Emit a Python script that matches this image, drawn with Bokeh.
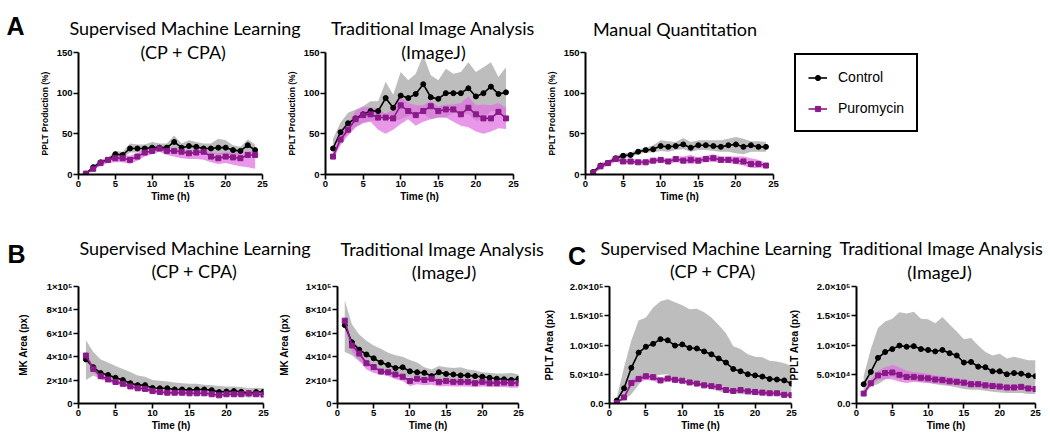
from bokeh.plotting import figure
from bokeh.layouts import column, row
from bokeh.models import Label, Legend, LegendItem, FixedTicker, Range1d
from bokeh.embed import file_html
from bokeh.resources import INLINE

# ---------------- data ----------------
hours_a = [1, 2, 3, 4, 5, 6, 7, 8, 9, 10, 11, 12, 13, 14, 15, 16, 17, 18, 19, 20, 21, 22, 23, 24]
hours_bc = [1, 2, 3, 4, 5, 6, 7, 8, 9, 10, 11, 12, 13, 14, 15, 16, 17, 18, 19, 20, 21, 22, 23, 24, 25]

# A - PPLT Production (%)
a1_ctrl = [1, 9, 15, 18, 25, 24, 32, 32, 32, 33, 33, 33, 40, 33, 35, 34, 32, 32, 33, 33, 30, 29, 36, 30]
a1_ctrl_lo = [0, 7, 12, 15, 21, 20, 27, 27, 27, 27, 28, 28, 32, 28, 29, 28, 26, 26, 24, 25, 24, 24, 29, 24]
a1_ctrl_hi = [2, 11, 18, 21, 29, 28, 38, 37, 37, 40, 38, 38, 48, 38, 42, 40, 38, 38, 44, 42, 36, 34, 43, 37]
a1_puro = [1, 7, 14, 18, 20, 20, 18, 22, 27, 29, 32, 29, 29, 28, 26, 27, 28, 22, 20, 22, 21, 20, 24, 24]
a1_puro_lo = [0, 5, 11, 14, 15, 15, 13, 17, 22, 25, 28, 24, 22, 20, 19, 19, 18, 15, 13, 14, 12, 10, 9, 7]
a1_puro_hi = [2, 9, 17, 21, 24, 24, 23, 26, 30, 32, 34, 32, 31, 30, 29, 30, 31, 27, 26, 27, 27, 26, 29, 28]

a2_ctrl = [32, 52, 63, 69, 74, 78, 78, 94, 82, 97, 94, 99, 111, 95, 93, 100, 100, 100, 106, 96, 100, 108, 99, 101]
a2_ctrl_lo = [20, 40, 50, 58, 64, 66, 66, 74, 66, 68, 72, 74, 75, 68, 70, 70, 76, 74, 74, 66, 68, 78, 78, 70]
a2_ctrl_hi = [44, 64, 76, 80, 84, 90, 90, 114, 98, 126, 116, 124, 147, 122, 116, 130, 124, 126, 138, 126, 132, 138, 120, 132]
a2_puro = [22, 43, 55, 68, 73, 74, 70, 70, 69, 85, 78, 73, 78, 84, 78, 80, 80, 74, 82, 74, 69, 69, 77, 69]
a2_puro_lo = [18, 36, 48, 58, 63, 65, 55, 50, 55, 62, 68, 60, 65, 68, 70, 70, 65, 60, 58, 53, 50, 53, 57, 56]
a2_puro_hi = [26, 50, 62, 78, 83, 83, 80, 75, 80, 95, 88, 85, 85, 90, 84, 86, 86, 88, 96, 85, 86, 85, 88, 82]

a3_ctrl = [3, 11, 14, 20, 23, 24, 28, 30, 31, 35, 34, 35, 37, 33, 36, 36, 35, 34, 36, 37, 34, 36, 34, 34]
a3_ctrl_lo = [1, 8, 11, 17, 20, 21, 25, 27, 27, 29, 28, 30, 31, 28, 30, 30, 29, 28, 28, 26, 25, 28, 28, 28]
a3_ctrl_hi = [5, 14, 17, 23, 26, 27, 31, 33, 36, 42, 41, 40, 45, 40, 42, 42, 42, 42, 44, 46, 44, 41, 41, 40]
a3_puro = [2, 10, 14, 19, 16, 16, 15, 15, 17, 18, 16, 19, 17, 18, 17, 19, 20, 18, 18, 17, 16, 13, 13, 11]
a3_puro_lo = [0, 7, 11, 16, 13, 13, 12, 12, 14, 15, 13, 15, 14, 13, 14, 15, 16, 14, 14, 13, 11, 8, 8, 9]
a3_puro_hi = [4, 13, 17, 21, 19, 19, 18, 18, 20, 21, 19, 22, 22, 24, 21, 23, 25, 22, 22, 22, 22, 20, 18, 13]

# B - MK Area (px), in thousands
b1_ctrl_k = [37.7, 31, 26, 24.4, 22, 20, 17.3, 15.7, 15.7, 13.3, 13, 13, 12, 12, 11.4, 12, 12, 11.4, 9.8, 10.3, 10.6, 10, 8.7, 9.8, 10]
b1_ctrl_lo_k = [20, 24, 21, 20, 18, 16.8, 14.6, 13.3, 12.7, 11.4, 10.6, 10.6, 9.8, 9.8, 9.2, 9, 9, 8.6, 8, 7.9, 7.5, 6.5, 5, 6.5, 7.3]
b1_ctrl_hi_k = [54, 44, 37.7, 35, 32, 29.5, 27, 24, 22.8, 20, 19.5, 18.7, 18, 17.3, 16.8, 16.8, 16, 15.5, 15, 14.6, 14.5, 14, 13, 13.5, 13.3]
b1_puro_k = [41, 29.5, 23.3, 20.6, 18.4, 16.8, 14.6, 13, 12.5, 10.6, 9.8, 9.2, 9.2, 9.2, 8.7, 8.7, 8.7, 7.9, 7, 7.9, 7.9, 7.9, 8.7, 7.9, 7.6]
b1_puro_lo_k = [38, 27, 20.8, 18.6, 16.4, 14.8, 12.6, 11, 10.5, 8.6, 7.8, 7.2, 7.2, 7.2, 6.7, 6.7, 6.7, 5.9, 5.2, 5.9, 5.9, 5.9, 6.7, 5.9, 5.6]
b1_puro_hi_k = [44, 32, 25.8, 22.6, 20.4, 18.8, 16.6, 15, 14.5, 12.4, 11.6, 11, 11, 11, 10.5, 10.5, 10.5, 9.7, 8.8, 9.7, 9.7, 9.7, 10.3, 9.5, 9.2]

b2_ctrl_k = [67, 52.3, 46, 41.9, 38.6, 35, 33, 30.3, 30.9, 27.5, 26.7, 26.2, 23.4, 26.7, 25.3, 24.8, 24, 24, 23.4, 22.9, 22, 21.2, 20.7, 20.1, 21.2]
b2_ctrl_lo_k = [44, 41.3, 35.8, 33, 31, 28.4, 26.2, 24.8, 23.4, 22, 21, 20.7, 19.8, 20, 19.3, 19, 19, 18.5, 18.2, 17.9, 17.5, 17, 17, 16.5, 16.5]
b2_ctrl_hi_k = [88, 67.5, 59, 53.7, 49.6, 46.8, 43.3, 41.3, 40, 37.2, 35, 31, 29, 32, 31, 30.3, 31, 29, 28.4, 26.7, 26.2, 25.6, 25.6, 26.2, 24.8]
b2_puro_k = [70.8, 49.6, 42.7, 34.4, 31.1, 27.3, 26.7, 24.8, 22.9, 19.3, 21.2, 20.1, 21.2, 18.5, 19.3, 18.5, 18.5, 18.5, 17.4, 18.5, 17.4, 17.4, 17.9, 17.4, 17.4]
b2_puro_lo_k = [64, 44, 37, 29, 26, 24.8, 23.4, 20.7, 19.3, 15, 16.5, 15.5, 16, 14.5, 15, 14.5, 14.5, 14.5, 14, 14.5, 14, 14, 14, 13.5, 13.5]
b2_puro_hi_k = [74, 52, 45, 37, 33, 29, 28.5, 26.5, 24.5, 21, 23, 22, 23, 20.5, 21, 20.5, 20.5, 20.5, 19.5, 20.5, 19.5, 19.5, 20, 19.5, 19.5]

# C - PPLT Area (px), in thousands
c1_ctrl_k = [5, 26, 61, 87, 97, 102, 110, 108, 99, 101, 95, 94, 89, 84, 77, 70, 59, 55, 50, 48, 46, 42, 41, 39.5, 34]
c1_ctrl_lo_k = [2, 6, 16, 32, 46, 46, 49, 50, 35, 45, 38, 34, 32, 25, 21, 19, 17.5, 16, 16, 14, 14, 13, 13, 12, 12]
c1_ctrl_hi_k = [10, 62, 108, 142, 147, 164, 175, 178, 173, 168, 161, 162, 156, 147, 134, 120, 98, 93, 84, 80, 79, 73, 72, 69, 64]
c1_puro_k = [1, 10.4, 35, 42, 46.6, 45, 39.5, 42.7, 40.5, 39, 36, 34, 31, 29.6, 28, 23, 21.4, 23, 20.8, 19.7, 18.6, 17.5, 17.5, 14.8, 14.2]
c1_puro_lo_k = [0, 7, 30, 37, 40, 39, 34, 38, 36, 35, 32, 31, 28, 26.6, 25, 20, 18.4, 20, 17.8, 16.7, 15.6, 14.5, 14.5, 11.8, 11.2]
c1_puro_hi_k = [2, 13, 40, 47, 51, 50, 44, 46, 44, 42, 39, 37, 34, 32.5, 31, 26, 24.4, 26, 23.8, 22.7, 21.6, 20.5, 20.5, 17.8, 17.2]

c2_ctrl_k = [33, 54, 78, 88, 93, 99, 97, 98, 93, 91.5, 89, 91.5, 86, 82, 70, 71, 63, 62, 55, 55, 50, 52, 51, 48, 46.6]
c2_ctrl_lo_k = [19, 30, 33, 41, 45.5, 41, 40, 38, 37, 35.6, 33, 31, 30, 27.4, 24.7, 23.6, 23.6, 22, 20, 19, 18, 18, 18, 16.4, 16.4]
c2_ctrl_hi_k = [46.6, 93, 129, 140, 145, 156, 154, 157, 145, 144, 137, 148, 135, 123, 110, 112, 99, 88, 82, 85, 77, 80, 77, 74, 74]
c2_puro_k = [17, 34.5, 48, 52, 53, 49, 45.5, 45.5, 44, 43, 41, 40, 38, 37, 35.6, 33, 33, 31, 30, 29, 27.4, 27.4, 28.5, 25.8, 24.7]
c2_puro_lo_k = [14, 29, 40, 42, 41, 37, 35, 37, 36, 35, 34, 33, 31, 31, 30, 27, 28, 26, 25, 24, 22, 22, 23, 21, 20]
c2_puro_hi_k = [20, 40, 56, 62, 66, 62, 56, 54, 52, 51, 48, 47, 45, 43, 41, 39, 38, 36, 35, 34, 32, 32, 33, 30, 29]

x_ticks = [0, 5, 10, 15, 20, 25]
a_yticks = [0, 50, 100, 150]
a_ylabels = ["0", "50", "100", "150"]
b_yticks = [0, 20000, 40000, 60000, 80000, 100000]
b_ylabels = ["0", "2×10⁴", "4×10⁴", "6×10⁴", "8×10⁴", "1×10⁵"]
c_yticks = [0, 50000, 100000, 150000, 200000]
c_ylabels = ["0.0", "5.0×10⁴", "1.0×10⁵", "1.5×10⁵", "2.0×10⁵"]
series_names = ["Control", "Puromycin"]

# ---------------- style ----------------
CTRL = "#000000"
PURO = "#8a1a8a"
CTRL_BAND = "#bdbdbd"
PURO_BAND = "#e070e0"
TITLE_FONT = "Lato"
TICK_FONT = "Liberation Sans"
W, H = 1050, 443
ROW1_H = 207
ROW2_H = H - ROW1_H


def k(vals):
    return [v * 1000 for v in vals]


def draw_series(p, hours, series, visible=True):
    (c_m, c_lo, c_hi), (p_m, p_lo, p_hi) = series
    if visible:
        p.varea(x=hours, y1=c_lo, y2=c_hi, fill_color=CTRL_BAND, fill_alpha=1.0)
        p.varea(x=hours, y1=p_lo, y2=p_hi, fill_color=PURO_BAND, fill_alpha=0.72)
    r = [p.line(hours, c_m, line_color=CTRL, line_width=1.6, visible=visible),
         p.scatter(hours, c_m, marker="circle", size=5, color=CTRL, visible=visible),
         p.line(hours, p_m, line_color=PURO, line_width=1.6, visible=visible),
         p.scatter(hours, p_m, marker="square", size=5, color=PURO, visible=visible)]
    return r


def make_panel(cl, cr, ct, height, fl, fr, ft, fb, ymax, yticks, ylabels,
               ylabel, ylabel_size, ylabel_standoff, prev_right, series, hours):
    width = cr - cl
    p = figure(width=width, height=height, output_backend="svg", toolbar_location=None,
               x_range=Range1d(0, 25), y_range=Range1d(0, ymax),
               min_border_left=fl - cl, min_border_right=cr - fr,
               min_border_top=ft - ct, min_border_bottom=ct + height - fb,
               margin=(0, 0, 0, cl - prev_right))
    p.title.visible = False
    p.outline_line_color = None
    p.background_fill_color = None
    p.border_fill_color = None
    p.grid.visible = False
    draw_series(p, hours, series)
    for ax in (p.xaxis[0], p.yaxis[0]):
        ax.axis_line_width = 2
        ax.axis_line_color = "black"
        ax.major_tick_line_width = 1.6
        ax.major_tick_out = 5
        ax.major_tick_in = 0
        ax.minor_tick_out = 0
        ax.minor_tick_in = 0
        ax.major_label_standoff = 1
        ax.major_label_text_font = TICK_FONT
        ax.major_label_text_font_style = "bold"
        ax.major_label_text_font_size = "9.5px"
        ax.major_label_text_color = "black"
        ax.axis_label_text_font = TICK_FONT
        ax.axis_label_text_font_style = "bold"
        ax.axis_label_text_color = "black"
    p.xaxis.ticker = FixedTicker(ticks=x_ticks)
    p.xaxis.axis_label = "Time (h)"
    p.xaxis.axis_label_text_font_size = "10px"
    p.xaxis.axis_label_standoff = 1
    p.yaxis.ticker = FixedTicker(ticks=yticks)
    p.yaxis.major_label_overrides = {t: s for t, s in zip(yticks, ylabels)}
    p.yaxis.axis_label = ylabel
    p.yaxis.axis_label_text_font_size = ylabel_size
    p.yaxis.axis_label_standoff = ylabel_standoff
    return p


A_ser = [((a1_ctrl, a1_ctrl_lo, a1_ctrl_hi), (a1_puro, a1_puro_lo, a1_puro_hi)),
         ((a2_ctrl, a2_ctrl_lo, a2_ctrl_hi), (a2_puro, a2_puro_lo, a2_puro_hi)),
         ((a3_ctrl, a3_ctrl_lo, a3_ctrl_hi), (a3_puro, a3_puro_lo, a3_puro_hi))]

pa1 = make_panel(0, 270, 0, ROW1_H, 78, 262, 52, 174, 150, a_yticks, a_ylabels,
                 "PPLT Production (%)", "8.5px", 4, 0, A_ser[0], hours_a)
pa2 = make_panel(282, 521, 0, ROW1_H, 325, 513, 52, 176, 150, a_yticks, a_ylabels,
                 "PPLT Production (%)", "8.5px", 4, 270, A_ser[1], hours_a)
pa3 = make_panel(541, 781, 0, ROW1_H, 585, 773, 52, 175, 150, a_yticks, a_ylabels,
                 "PPLT Production (%)", "8.5px", 4, 521, A_ser[2], hours_a)

pb1 = make_panel(0, 271, ROW1_H, ROW2_H, 78, 263, 280, 403, 100000, b_yticks, b_ylabels,
                 "MK Area (px)", "10px", 14, 0,
                 ((k(b1_ctrl_k), k(b1_ctrl_lo_k), k(b1_ctrl_hi_k)),
                  (k(b1_puro_k), k(b1_puro_lo_k), k(b1_puro_hi_k))), hours_bc)
pb2 = make_panel(273, 526, ROW1_H, ROW2_H, 337, 518, 285, 407, 100000, b_yticks, b_ylabels,
                 "MK Area (px)", "10px", 12, 271,
                 ((k(b2_ctrl_k), k(b2_ctrl_lo_k), k(b2_ctrl_hi_k)),
                  (k(b2_puro_k), k(b2_puro_lo_k), k(b2_puro_hi_k))), hours_bc)
pc1 = make_panel(541, 799, ROW1_H, ROW2_H, 607, 791, 286, 408, 200000, c_yticks, c_ylabels,
                 "PPLT Area (px)", "10px", 11, 526,
                 ((k(c1_ctrl_k), k(c1_ctrl_lo_k), k(c1_ctrl_hi_k)),
                  (k(c1_puro_k), k(c1_puro_lo_k), k(c1_puro_hi_k))), hours_bc)
pc2 = make_panel(786, 1043, ROW1_H, ROW2_H, 853, 1035, 286, 408, 200000, c_yticks, c_ylabels,
                 "PPLT Area (px)", "10px", 13, 799,
                 ((k(c2_ctrl_k), k(c2_ctrl_lo_k), k(c2_ctrl_hi_k)),
                  (k(c2_puro_k), k(c2_puro_lo_k), k(c2_puro_hi_k))), hours_bc)

# ---------------- overlay for titles, panel letters and legend ----------------
ov = figure(width=W, height=H, output_backend="svg", toolbar_location=None,
            x_range=Range1d(0, W), y_range=Range1d(H, 0),
            x_axis_location=None, y_axis_location=None,
            min_border=0, margin=(-H, 0, 0, 0))
ov.title.visible = False
ov.outline_line_color = None
ov.background_fill_color = None
ov.border_fill_color = None
ov.grid.visible = False


def add_text(text, X, Y, size, font=TITLE_FONT, style="normal"):
    ov.add_layout(Label(x=X, y=Y, text=text, text_font=font, text_font_size=size,
                        text_font_style=style, text_align="center",
                        text_baseline="alphabetic", text_color="black"))


SML = "Supervised Machine Learning"
TIA = "Traditional Image Analysis"
add_text("A", 15, 25, "25px", TICK_FONT, "bold")
add_text(SML, 184.5, 27, "18px")
add_text("(CP + CPA)", 183, 51, "18px")
add_text(TIA, 432.5, 27, "18px")
add_text("(ImageJ)", 433, 51, "18px")
add_text("Manual Quantitation", 674.5, 28, "18px")
add_text("B", 16, 253, "25px", TICK_FONT, "bold")
add_text(SML, 194.5, 247, "18px")
add_text("(CP + CPA)", 194, 270, "18px")
add_text(TIA, 442, 248, "18px")
add_text("(ImageJ)", 443.5, 271.5, "18px")
add_text("C", 576.5, 255, "25px", TICK_FONT, "bold")
add_text(SML, 715.5, 247, "18px")
add_text("(CP + CPA)", 712.5, 270.5, "18px")
add_text(TIA, 941, 247, "18px")
add_text("(ImageJ)", 939, 271.5, "18px")

# legend: hidden copies of the series only supply the swatch styles
lg = draw_series(ov, hours_a, A_ser[2], visible=False)
legend = Legend(items=[LegendItem(label=series_names[0], renderers=[lg[0], lg[1]]),
                       LegendItem(label=series_names[1], renderers=[lg[2], lg[3]])],
                location=(794, H - 132), margin=0, padding=12, spacing=11,
                glyph_width=19, glyph_height=13, label_height=20, label_standoff=11,
                label_text_font=TICK_FONT, label_text_font_size="14px",
                label_text_color="black", click_policy="none",
                inactive_fill_alpha=0.0,
                border_line_color="black", border_line_width=2, border_line_alpha=1.0,
                background_fill_color="white", background_fill_alpha=1.0)
ov.add_layout(legend)

layout = column(row(pa1, pa2, pa3), row(pb1, pb2, pc1, pc2), ov)
open("out.html", "w").write(file_html(layout, INLINE))
